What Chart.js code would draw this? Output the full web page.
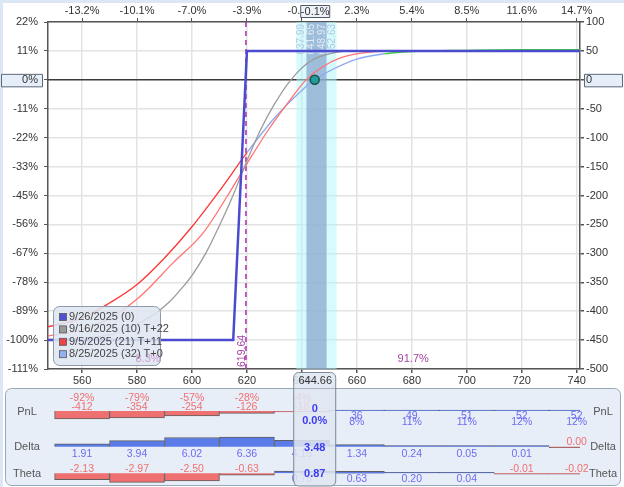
<!DOCTYPE html>
<html>
<head>
<meta charset="utf-8">
<script src="https://cdn.jsdelivr.net/npm/chart.js@4.4.1/dist/chart.umd.min.js"></script>
<style>
  html, body { margin: 0; padding: 0; background: #fff; }
  #wrap { position: relative; width: 624px; height: 487px; overflow: hidden; }
  #main { position: absolute; left: 0; top: 0; }
  #greeks { position: absolute; left: 0; top: 370px; }
</style>
</head>
<body>
<div id="wrap">
  <canvas id="main" width="624" height="487"></canvas>
  <canvas id="greeks" width="624" height="117"></canvas>
</div>
<script>
'use strict';

// *************** AXES
const priceMin = 547.6;
const priceMax = 741.2;
const priceTicks = [560, 580, 600, 620, 640, 660, 680, 700, 720, 740];
const topTickLabels = ['-13.2%', '-10.1%', '-7.0%', '-3.9%', '-0.8%', '2.3%', '5.4%', '8.5%', '11.6%', '14.7%'];
const pnlTicks = [100, 50, 0, -50, -100, -150, -200, -250, -300, -350, -400, -450, -500];
const pctTickLabels = ['22%', '11%', '0%', '-11%', '-22%', '-33%', '-45%', '-56%', '-67%', '-78%', '-89%', '-100%', '-111%'];

// *************** CURVES (price -> P&L $)
const expiryPrices = [547.6, 615, 620, 741.2];
const expiryPnl = [-450, -450, 50, 50];

const t22Prices = [547.6, 560, 570, 575, 581, 587, 592, 596, 600, 605, 610, 615, 620, 625, 630, 636, 643, 651, 660, 741.2];
const t22Pnl = [-449, -447, -441, -433, -420, -403, -383, -362, -338, -300, -252, -199, -140, -86, -42, 0, 32, 46, 50, 50];

const t11Prices = [547.6, 560, 570, 581, 593, 604, 613, 620, 628, 636, 641.5, 647, 654, 664, 680, 741.2];
const t11Pnl = [-443, -432, -412, -375, -317, -265, -200, -145, -85, -33, 0, 21, 38, 47.5, 50, 50];

const t0Prices = [547.6, 560, 570, 580, 590, 600, 610, 620, 630, 640, 644.66, 652, 660, 670, 680, 700, 720, 741.2];
const t0Pnl = [-427, -412, -386, -354, -308, -254, -192, -126, -66, -18, 0, 20, 36, 45, 49, 51, 52, 52];

const seriesLabels = ['9/26/2025 (0)', '9/16/2025 (10) T+22', '9/5/2025 (21) T+11', '8/25/2025 (32) T+0'];

// *************** MARKERS / ANNOTATIONS
const currentPrice = 644.66;
const currentPnl = 0;
const currentPctLabel = '-0.1%';
const outerBand = [637.99, 652.63];
const innerBand = [641.65, 648.97];
const shortStrikeLine = 619.64;
const probAnchors = [584, 680.5];
const probTexts = ['8.3%', '91.7%'];

// *************** GREEKS TABLE
const bucketPrices = [560, 580, 600, 620, 640, 660, 680, 700, 720, 740];
const pnlValues = [-412, -354, -254, -126, -18, 36, 49, 51, 52, 52];
const deltaValues = [1.91, 3.94, 6.02, 6.36, 4.15, 1.34, 0.24, 0.05, 0.01, -0.004];
const thetaValues = [-2.13, -2.97, -2.50, -0.63, 0.75, 0.63, 0.20, 0.04, -0.01, -0.02];
const centerPnl = 0;
const centerPnlPct = '0.0%';
const centerDelta = 3.48;
const centerTheta = 0.87;
const maxRisk = 449;

const FONT = '"Liberation Sans", Arial, sans-serif';
Chart.defaults.font.family = FONT;

const seriesColors = ['#4b4bcf', '#9b9b9b', '#ff7373', '#8aaaf0'];
const legendColors = ['#5252d0', '#9a9a9a', '#ee4545', '#92b0f2'];

function toPoints(xs, ys) {
  return xs.map((x, i) => ({ x: x, y: ys[i] }));
}

function box(ctx, x, y, w, h, r, fill, stroke) {
  ctx.beginPath();
  ctx.roundRect(x, y, w, h, r);
  ctx.fillStyle = fill;
  ctx.fill();
  if (stroke) {
    ctx.lineWidth = 1;
    ctx.strokeStyle = stroke;
    ctx.stroke();
  }
}

function fixTicks(list) {
  return function (scale) {
    scale.ticks = list.map(v => ({ value: v }));
  };
}

// *************** MAIN CHART PLUGIN
const overlayPlugin = {
  id: 'overlay',
  beforeDraw(chart) {
    const { ctx, scales } = chart;
    ctx.save();
    ctx.fillStyle = '#dbe7f5';
    ctx.fillRect(0, 0, chart.width, 3);
    ctx.fillRect(0, 0, 3, chart.height);
    const y0 = scales.y.getPixelForValue(0);
    box(ctx, 1.5, y0 - 5.5, 41, 12.5, 0, '#e6eefa', '#5b6878');
    box(ctx, 584.5, y0 - 5.5, 38, 12.5, 0, '#e6eefa', '#5b6878');
    ctx.restore();
  },
  beforeDatasetsDraw(chart) {
    const { ctx, chartArea: a, scales } = chart;
    const x = scales.x;
    ctx.save();
    // bands
    const x1 = x.getPixelForValue(outerBand[0]);
    const x2 = x.getPixelForValue(outerBand[1]);
    ctx.fillStyle = 'rgba(175,245,252,0.5)';
    ctx.fillRect(x1, a.top, x2 - x1, a.bottom - a.top);
    const i1 = x.getPixelForValue(innerBand[0]);
    const i2 = x.getPixelForValue(innerBand[1]);
    ctx.fillStyle = 'rgba(128,158,200,0.66)';
    ctx.fillRect(i1, a.top, i2 - i1, a.bottom - a.top);

    // band labels
    ctx.font = '10px ' + FONT;
    ctx.textAlign = 'right';
    ctx.textBaseline = 'middle';
    const bandLabels = [
      [outerBand[0], 4.5, '#b4cbe2'],
      [innerBand[0], 4.5, '#e4ebf5'],
      [innerBand[1], -4.5, '#e4ebf5'],
      [outerBand[1], -4.5, '#b0c8e0']
    ];
    bandLabels.forEach(b => {
      ctx.save();
      ctx.translate(x.getPixelForValue(b[0]) + b[1], a.top + 2);
      ctx.rotate(-Math.PI / 2);
      ctx.fillStyle = b[2];
      ctx.fillText(b[0].toFixed(2), 0, 0);
      ctx.restore();
    });

    // dashed strike line
    const sx = x.getPixelForValue(shortStrikeLine);
    ctx.beginPath();
    ctx.setLineDash([5, 4]);
    ctx.strokeStyle = '#b02cb0';
    ctx.lineWidth = 1.5;
    ctx.moveTo(sx, a.top);
    ctx.lineTo(sx, a.bottom);
    ctx.stroke();
    ctx.setLineDash([]);
    ctx.save();
    ctx.translate(sx - 4, a.bottom - 2);
    ctx.rotate(-Math.PI / 2);
    ctx.textAlign = 'left';
    ctx.fillStyle = '#a43ca4';
    ctx.font = '10.5px ' + FONT;
    ctx.fillText(shortStrikeLine.toFixed(2), 0, 0);
    ctx.restore();
    ctx.restore();
  },
  afterDatasetsDraw(chart) {
    const { ctx, chartArea: a, scales } = chart;
    ctx.save();
    ctx.font = '11px ' + FONT;
    ctx.textBaseline = 'middle';

    // legend
    box(ctx, 53.5, 306.5, 107, 59, 6, 'rgba(222,230,241,0.88)', '#8d9aab');
    ctx.textAlign = 'left';
    seriesLabels.forEach((lbl, i) => {
      const ly = 317 + i * 12.4;
      ctx.fillStyle = legendColors[i];
      ctx.fillRect(59.5, ly - 3.5, 7, 7);
      ctx.strokeStyle = '#555';
      ctx.lineWidth = 0.8;
      ctx.strokeRect(59.5, ly - 3.5, 7, 7);
      ctx.fillStyle = '#444';
      ctx.fillText(lbl, 69, ly);
    });

    // probability texts (the left one sits under the legend, faded)
    ctx.textAlign = 'center';
    probAnchors.forEach((p, i) => {
      const px = scales.x.getPixelForValue(p);
      ctx.fillStyle = px < 161 ? 'rgba(190,110,190,0.6)' : '#a444a4';
      ctx.fillText(probTexts[i], px, a.bottom - 10);
    });
    ctx.restore();
  },
  afterDraw(chart) {
    const { ctx, scales } = chart;
    ctx.save();
    const cx = scales.x.getPixelForValue(currentPrice);
    box(ctx, cx - 14, 5.5, 29, 12, 0, '#eef3fa', '#505a66');
    ctx.font = '11px ' + FONT;
    ctx.textAlign = 'center';
    ctx.textBaseline = 'middle';
    ctx.fillStyle = '#333';
    ctx.fillText(currentPctLabel, cx + 0.5, 12);
    ctx.restore();
  }
};

const axisFont = { family: FONT, size: 11 };

new Chart(document.getElementById('main'), {
  type: 'line',
  data: {
    datasets: [
      {
        label: seriesLabels[0],
        data: toPoints(expiryPrices, expiryPnl),
        borderColor: seriesColors[0],
        borderWidth: 2.5,
        pointRadius: 0,
        tension: 0
      },
      {
        label: seriesLabels[1],
        data: toPoints(t22Prices, t22Pnl),
        borderColor: seriesColors[1],
        borderWidth: 1.3,
        pointRadius: 0,
        cubicInterpolationMode: 'monotone'
      },
      {
        label: seriesLabels[2],
        data: toPoints(t11Prices, t11Pnl),
        borderColor: seriesColors[2],
        borderWidth: 1.3,
        pointRadius: 0,
        cubicInterpolationMode: 'monotone'
      },
      {
        label: seriesLabels[3],
        data: toPoints(t0Prices, t0Pnl),
        borderColor: seriesColors[3],
        borderWidth: 1.3,
        pointRadius: 0,
        cubicInterpolationMode: 'monotone',
        segment: {
          borderColor: c => {
            const m = (c.p0.parsed.y + c.p1.parsed.y) / 2;
            if (m < -110) return '#ff3434';
            if (m > 44) return '#3fcf3f';
            return '#8aaaf0';
          }
        }
      },
      {
        type: 'scatter',
        label: 'now',
        data: [{ x: currentPrice, y: currentPnl }],
        pointRadius: 4.5,
        backgroundColor: '#1f9e9a',
        borderColor: '#1d4f4e',
        borderWidth: 1.5,
        order: -1
      }
    ]
  },
  options: {
    responsive: false,
    animation: false,
    layout: { padding: 0 },
    plugins: { legend: { display: false }, tooltip: { enabled: false } },
    scales: {
      x: {
        type: 'linear',
        position: 'bottom',
        min: priceMin,
        max: priceMax,
        afterBuildTicks: fixTicks(priceTicks),
        afterFit: s => { s.height = 118; },
        grid: { color: '#e3e3e3', lineWidth: 1.5, tickColor: '#555', tickLength: 4 },
        border: { color: '#555', width: 1.5 },
        ticks: { color: '#333', font: axisFont, padding: 1, maxRotation: 0, autoSkip: false }
      },
      xTop: {
        type: 'linear',
        position: 'top',
        min: priceMin,
        max: priceMax,
        afterBuildTicks: fixTicks(priceTicks),
        afterFit: s => { s.height = 22; },
        grid: { drawOnChartArea: false, tickColor: '#555', tickLength: 4 },
        border: { color: '#555', width: 1.5 },
        ticks: {
          color: '#333', font: axisFont, padding: 0, maxRotation: 0, autoSkip: false,
          callback: (v, i) => topTickLabels[i]
        }
      },
      y: {
        type: 'linear',
        position: 'right',
        min: -500,
        max: 100,
        afterBuildTicks: fixTicks(pnlTicks),
        afterFit: s => { s.width = 44; },
        grid: {
          color: c => (c.tick && c.tick.value === 0 ? '#3a3a3a' : '#e3e3e3'),
          lineWidth: 1.5,
          tickColor: '#555',
          tickLength: 4
        },
        border: { color: '#555', width: 1.5 },
        ticks: { color: '#333', font: axisFont, padding: 2, autoSkip: false }
      },
      yPct: {
        type: 'linear',
        position: 'left',
        min: -500,
        max: 100,
        afterBuildTicks: fixTicks(pnlTicks),
        afterFit: s => { s.width = 48; },
        grid: { drawOnChartArea: false, tickColor: '#555', tickLength: 4 },
        border: { color: '#555', width: 1.5 },
        ticks: {
          color: '#333', font: axisFont, padding: 6, autoSkip: false,
          callback: v => pctTickLabels[pnlTicks.indexOf(v)]
        }
      }
    }
  },
  plugins: [overlayPlugin]
});

// *************** GREEKS PANEL
const RED_TXT = '#f07070';
const BLUE_TXT = '#6c6cf0';

function fmt2(v) {
  const s = v.toFixed(2);
  return s === '-0.00' ? '0.00' : s;
}

const greeksPlugin = {
  id: 'greeks',
  beforeDraw(chart) {
    const { ctx } = chart;
    ctx.save();
    box(ctx, 5.5, 18.5, 615, 97, 6, '#e8eef8', '#98a8b8');
    ctx.restore();
  },
  afterDatasetsDraw(chart) {
    const { ctx, scales } = chart;
    const x = scales.x;
    ctx.save();
    ctx.font = '10.5px ' + FONT;
    ctx.textAlign = 'center';
    ctx.textBaseline = 'middle';

    const pb = scales.yPnl.getPixelForValue(0);
    const db = scales.yDelta.getPixelForValue(0);
    const tb = scales.yTheta.getPixelForValue(0);

    bucketPrices.forEach((p, i) => {
      const px = x.getPixelForValue(p);
      const v = pnlValues[i];
      const pct = Math.round(v / maxRisk * 100) + '%';
      if (v < 0) {
        ctx.fillStyle = RED_TXT;
        ctx.fillText(pct, px, pb - 12.7);
        ctx.fillText(String(v), px, pb - 4.3);
      } else {
        ctx.fillStyle = BLUE_TXT;
        ctx.fillText(String(v), px, pb + 4.7);
        ctx.fillText(pct, px, pb + 11);
      }
      const d = deltaValues[i];
      if (d < 0) {
        ctx.fillStyle = RED_TXT;
        ctx.fillText(fmt2(d), px, db - 5);
      } else {
        ctx.fillStyle = BLUE_TXT;
        ctx.fillText(fmt2(d), px, db + 7.3);
      }
      const t = thetaValues[i];
      if (t < 0) {
        ctx.fillStyle = RED_TXT;
        ctx.fillText(fmt2(t), px, tb - 4.3);
      } else {
        ctx.fillStyle = BLUE_TXT;
        ctx.fillText(fmt2(t), px, tb + 6);
      }
    });

    // row titles
    ctx.font = '11px ' + FONT;
    ctx.fillStyle = '#555';
    [['PnL', pb + 0.7], ['Delta', db + 0.3], ['Theta', tb + 0.7]].forEach(r => {
      ctx.fillText(r[0], 27, r[1]);
      ctx.fillText(r[0], 603, r[1]);
    });

    // current price column
    const cx = x.getPixelForValue(currentPrice);
    box(ctx, cx - 21, 2.5, 42, 113.5, 5, 'rgba(224,231,241,0.86)', '#7b8998');
    ctx.beginPath();
    ctx.moveTo(cx - 21, 18.5);
    ctx.lineTo(cx + 21, 18.5);
    ctx.strokeStyle = 'rgba(123,137,152,0.5)';
    ctx.stroke();
    ctx.fillStyle = '#333';
    ctx.font = '11px ' + FONT;
    ctx.fillText(currentPrice.toFixed(2), cx + 0.5, 10.5);
    ctx.font = 'bold 11px ' + FONT;
    ctx.fillStyle = '#3c3cee';
    ctx.fillText(String(centerPnl), cx, pb - 2.5);
    ctx.fillText(centerPnlPct, cx, pb + 10);
    ctx.fillText(centerDelta.toFixed(2), cx, db + 1.5);
    ctx.fillText(centerTheta.toFixed(2), cx, tb + 1);
    ctx.restore();
  }
};

function barSet(values, axis) {
  return {
    data: toPoints(bucketPrices, values),
    yAxisID: axis,
    backgroundColor: c => (c.raw && c.raw.y < 0 ? '#ef7070' : '#5b7ce8'),
    borderColor: '#5e5e5e',
    borderWidth: 1,
    minBarLength: 1,
    barPercentage: 1,
    categoryPercentage: 1,
    grouped: false
  };
}

new Chart(document.getElementById('greeks'), {
  type: 'bar',
  data: {
    datasets: [
      barSet(pnlValues, 'yPnl'),
      barSet(deltaValues, 'yDelta'),
      barSet(thetaValues, 'yTheta')
    ]
  },
  options: {
    responsive: false,
    animation: false,
    layout: { padding: { left: 48, right: 44, top: 19, bottom: 0 } },
    plugins: { legend: { display: false }, tooltip: { enabled: false } },
    scales: {
      x: {
        type: 'linear',
        min: priceMin,
        max: priceMax,
        offset: false,
        display: false,
        afterBuildTicks: fixTicks(bucketPrices)
      },
      yPnl: { type: 'linear', display: false, min: -3914, max: 1133 },
      yDelta: { type: 'linear', display: false, min: -26.4, max: 37.8 },
      yTheta: { type: 'linear', display: false, min: -4.52, max: 27.8 }
    }
  },
  plugins: [greeksPlugin]
});
</script>
</body>
</html>
